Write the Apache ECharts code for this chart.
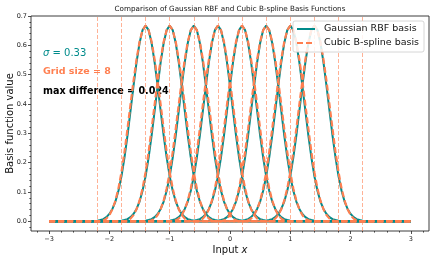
<!DOCTYPE html>
<html>
<head>
<meta charset="utf-8">
<script src="https://cdn.jsdelivr.net/npm/echarts@6/dist/echarts.min.js"></script>
<style>html,body{margin:0;padding:0;background:#fff}#c{width:436px;height:262px}</style>
</head>
<body>
<div id="c"></div>
<script>
// ---- data ----
const centers = [-1.4, -1.0, -0.6, -0.2, 0.2, 0.6, 1.0, 1.4];
const knots = [-2.2, -1.8, -1.4, -1.0, -0.6, -0.2, 0.2, 0.6, 1.0, 1.4, 1.8, 2.2];
const offsets = [-0.9,-0.85,-0.8,-0.75,-0.7,-0.65,-0.6,-0.55,-0.5,-0.45,-0.4,-0.35,-0.3,-0.25,-0.2,-0.15,-0.1,-0.05,
  0,0.05,0.1,0.15,0.2,0.25,0.3,0.35,0.4,0.45,0.5,0.55,0.6,0.65,0.7,0.75,0.8,0.85,0.9];
const gaussProfile = [0.000,0.001,0.002,0.004,0.007,0.014,0.025,0.042,0.067,0.104,0.153,0.217,0.292,0.376,0.462,0.542,0.608,0.652,
  0.667,0.652,0.608,0.542,0.462,0.376,0.292,0.217,0.153,0.104,0.067,0.042,0.025,0.014,0.007,0.004,0.002,0.001,0.000];
const bsplineProfile = [0,0,0,0.000,0.003,0.009,0.021,0.041,0.070,0.112,0.167,0.236,0.315,0.398,0.479,0.552,0.612,0.652,
  0.667,0.652,0.612,0.552,0.479,0.398,0.315,0.236,0.167,0.112,0.070,0.041,0.021,0.009,0.003,0.000,0,0,0];
const xRange = [-3, 3];
const xTicks = [-3, -2, -1, 0, 1, 2, 3];
const xMinorTicks = [-3.2,-2.8,-2.6,-2.4,-2.2,-1.8,-1.6,-1.4,-1.2,-0.8,-0.6,-0.4,-0.2,0.2,0.4,0.6,0.8,1.2,1.4,1.6,1.8,2.2,2.4,2.6,2.8,3.2];
const yTicks = [0, 0.1, 0.2, 0.3, 0.4, 0.5, 0.6, 0.7];
const yMinorTicks = [-0.02,0.02,0.04,0.06,0.08,0.12,0.14,0.16,0.18,0.22,0.24,0.26,0.28,0.32,0.34,0.36,0.38,0.42,0.44,0.46,0.48,0.52,0.54,0.56,0.58,0.62,0.64,0.66,0.68];
const sigmaText = '0.33';
const gridSize = 8;
const maxDiff = '0.024';

// ---- chart ----
const FONT = 'DejaVu Sans';
const TEAL = '#008b8b';
const CORAL = '#ff7f50';
const XMIN = -3.3, XMAX = 3.3, YMIN = -0.0333, YMAX = 0.7;

function bump(c, prof) {
  const pts = [[xRange[0], 0]];
  offsets.forEach((d, i) => pts.push([+(c + d).toFixed(4), prof[i]]));
  pts.push([xRange[1], 0]);
  return pts;
}

const series = [];
centers.forEach(c => series.push({
  type: 'line', name: 'Gaussian RBF basis', xAxisIndex: 0, yAxisIndex: 0,
  data: bump(c, gaussProfile), showSymbol: false, symbol: 'none', z: 2,
  lineStyle: { color: TEAL, width: 2 }, animation: false
}));
centers.forEach(c => series.push({
  type: 'line', name: 'Cubic B-spline basis', xAxisIndex: 0, yAxisIndex: 0,
  data: bump(c, bsplineProfile), showSymbol: false, symbol: 'none', z: 3,
  lineStyle: { color: CORAL, width: 2.2, type: [6, 3] }, animation: false
}));
series.push({
  type: 'line', data: [], z: 4, animation: false,
  markLine: {
    silent: true, symbol: ['none', 'none'], label: { show: false }, animation: false,
    lineStyle: { color: CORAL, opacity: 0.6, width: 1, type: [4, 2] },
    data: knots.map(k => ({ xAxis: k }))
  }
});

const tickStyle = { color: '#222', width: 0.8 };
const noLine = { show: false, onZero: false };
const option = {
  animation: false,
  grid: { left: 31, right: 7, top: 16, bottom: 31, show: true, borderColor: '#262626', borderWidth: 0.9,
    containLabel: false, outerBoundsMode: 'none' },
  xAxis: [
    {
      type: 'value', min: XMIN, max: XMAX, position: 'bottom',
      axisLine: noLine, splitLine: { show: false },
      axisTick: { show: true, length: 3, lineStyle: tickStyle, customValues: xTicks },
      axisLabel: { customValues: xTicks, fontFamily: FONT, fontSize: 6.5, color: '#222', margin: 5,
        formatter: v => String(v).replace('-', '\u2212') },
      name: '{a|Input }{b|x}', nameLocation: 'middle', nameGap: 14, nameMoveOverlap: false,
      nameTextStyle: { rich: { a: { fontFamily: FONT, fontSize: 10, color: '#111' }, b: { fontFamily: FONT, fontSize: 10, fontStyle: 'italic', color: '#111' } } }
    },
    {
      type: 'value', min: XMIN, max: XMAX, position: 'bottom',
      axisLine: noLine, splitLine: { show: false }, axisLabel: { show: false },
      axisTick: { show: true, length: 1.6, lineStyle: tickStyle, customValues: xMinorTicks }
    }
  ],
  yAxis: [
    {
      type: 'value', min: YMIN, max: YMAX, position: 'left',
      axisLine: noLine, splitLine: { show: false },
      axisTick: { show: true, length: 3, lineStyle: tickStyle, customValues: yTicks },
      axisLabel: { customValues: yTicks, fontFamily: FONT, fontSize: 6.5, color: '#222', margin: 4,
        formatter: v => v.toFixed(1) },
      name: 'Basis function value', nameLocation: 'middle', nameGap: 16, nameMoveOverlap: false,
      nameTextStyle: { fontFamily: FONT, fontSize: 10, color: '#111' }
    },
    {
      type: 'value', min: YMIN, max: YMAX, position: 'left',
      axisLine: noLine, splitLine: { show: false }, axisLabel: { show: false },
      axisTick: { show: true, length: 1.6, lineStyle: tickStyle, customValues: yMinorTicks }
    }
  ],
  series: series,
  graphic: [
    { type: 'text', x: 230, y: 9, style: { text: 'Comparison of Gaussian RBF and Cubic B-spline Basis Functions', fontFamily: FONT, fontSize: 7.2, fill: '#111', align: 'center', verticalAlign: 'middle' } },
    { type: 'text', x: 43, y: 53, style: { text: '{s|\u03c3}{n| = ' + sigmaText + '}', verticalAlign: 'middle',
      rich: { s: { fontFamily: FONT, fontSize: 10, fontStyle: 'italic', fill: TEAL }, n: { fontFamily: FONT, fontSize: 10, fill: TEAL } } } },
    { type: 'text', x: 43, y: 72, style: { text: 'Grid size = ' + gridSize, fontFamily: FONT, fontSize: 9.5, fontWeight: 'bold', fill: CORAL, verticalAlign: 'middle' } },
    { type: 'text', x: 43, y: 91, style: { text: 'max difference = ' + maxDiff, fontFamily: FONT, fontSize: 9.6, fontWeight: 'bold', fill: '#000', verticalAlign: 'middle' } },
    { type: 'rect', shape: { x: 293, y: 21, width: 131, height: 31, r: 2 }, style: { fill: 'rgba(255,255,255,0.85)', stroke: '#cccccc', lineWidth: 0.8 }, z: 10 },
    { type: 'line', shape: { x1: 297, y1: 29, x2: 315, y2: 29 }, style: { stroke: TEAL, lineWidth: 2 }, z: 11 },
    { type: 'line', shape: { x1: 297, y1: 43, x2: 315, y2: 43 }, style: { stroke: CORAL, lineWidth: 2.2, lineDash: [6, 3] }, z: 11 },
    { type: 'text', x: 324, y: 29, style: { text: 'Gaussian RBF basis', fontFamily: FONT, fontSize: 9.5, fill: '#111', verticalAlign: 'middle' }, z: 11 },
    { type: 'text', x: 324, y: 43, style: { text: 'Cubic B-spline basis', fontFamily: FONT, fontSize: 9.5, fill: '#111', verticalAlign: 'middle' }, z: 11 }
  ]
};
const chart = echarts.init(document.getElementById('c'), null, { renderer: 'canvas' });
chart.setOption(option);
</script>
</body>
</html>
